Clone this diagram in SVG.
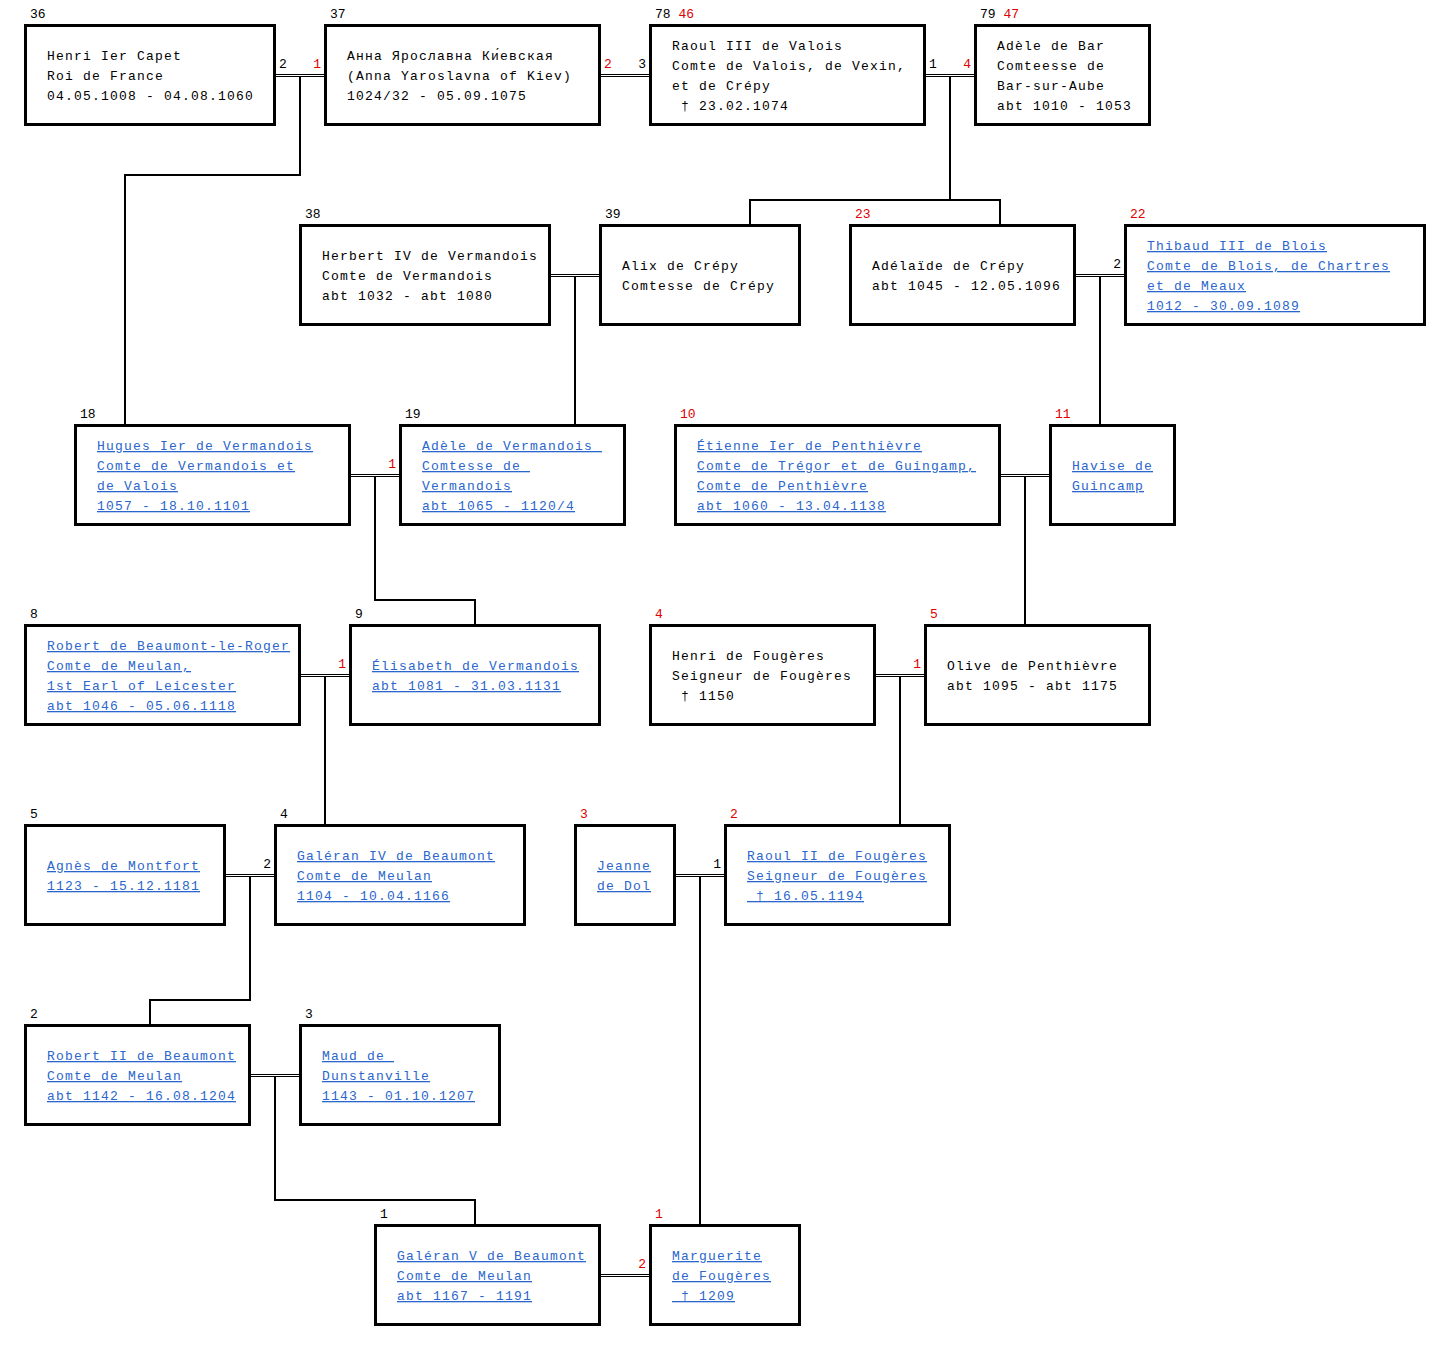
<svg xmlns="http://www.w3.org/2000/svg" width="1451" height="1351" viewBox="0 0 1451 1351" xml:space="preserve">
<style>
.bg{fill:#fff}
.box{fill:#fff;stroke:#000;stroke-width:3}
.t{font-family:"Liberation Mono",monospace;font-size:13px;letter-spacing:1.2px;fill:#000;white-space:pre}
.l{fill:#2a66cc;text-decoration:underline}
.n{font-family:"Liberation Mono",monospace;font-size:13px;fill:#000}
.r{fill:#e00000}
.m{stroke:#000;stroke-width:1;fill:none}
.d{stroke:#000;stroke-width:2;fill:none}
</style>
<rect class="bg" x="0" y="0" width="1451" height="1351"/>
<g id="connectors">
<path class="m" d="M276 74.5H324M276 76.5H324"/>
<path class="m" d="M601 74.5H649M601 76.5H649"/>
<path class="m" d="M926 74.5H974M926 76.5H974"/>
<path class="m" d="M551 274.5H599M551 276.5H599"/>
<path class="m" d="M1076 274.5H1124M1076 276.5H1124"/>
<path class="m" d="M351 474.5H399M351 476.5H399"/>
<path class="m" d="M1001 474.5H1049M1001 476.5H1049"/>
<path class="m" d="M301 674.5H349M301 676.5H349"/>
<path class="m" d="M876 674.5H924M876 676.5H924"/>
<path class="m" d="M226 874.5H274M226 876.5H274"/>
<path class="m" d="M676 874.5H724M676 876.5H724"/>
<path class="m" d="M251 1074.5H299M251 1076.5H299"/>
<path class="m" d="M601 1274.5H649M601 1276.5H649"/>
<path class="d" d="M300 77V175H125V424"/>
<path class="d" d="M950 77V200"/>
<path class="d" d="M750 224V200H1000V224"/>
<path class="d" d="M575 277V424"/>
<path class="d" d="M1100 277V424"/>
<path class="d" d="M375 477V600H475V624"/>
<path class="d" d="M1025 477V624"/>
<path class="d" d="M325 677V824"/>
<path class="d" d="M900 677V824"/>
<path class="d" d="M250 877V1000H150V1024"/>
<path class="d" d="M700 877V1224"/>
<path class="d" d="M275 1077V1200H475V1224"/>
<text class="n" x="279" y="68">2</text>
<text class="n r" x="321" y="68" text-anchor="end">1</text>
<text class="n r" x="604" y="68">2</text>
<text class="n" x="646" y="68" text-anchor="end">3</text>
<text class="n" x="929" y="68">1</text>
<text class="n r" x="971" y="68" text-anchor="end">4</text>
<text class="n" x="1121" y="268" text-anchor="end">2</text>
<text class="n r" x="396" y="468" text-anchor="end">1</text>
<text class="n r" x="346" y="668" text-anchor="end">1</text>
<text class="n r" x="921" y="668" text-anchor="end">1</text>
<text class="n" x="271" y="868" text-anchor="end">2</text>
<text class="n" x="721" y="868" text-anchor="end">1</text>
<text class="n r" x="646" y="1268" text-anchor="end">2</text>
</g>
<g id="n36"><text class="n" x="30" y="18">36</text><rect class="box" x="25.5" y="25.5" width="249" height="99"/>
<text class="t" x="47" y="60">Henri Ier Capet</text><text class="t" x="47" y="80">Roi de France</text><text class="t" x="47" y="100">04.05.1008 - 04.08.1060</text></g>
<g id="n37"><text class="n" x="330" y="18">37</text><rect class="box" x="325.5" y="25.5" width="274" height="99"/>
<text class="t" x="347" y="60">Анна Ярославна Ки́евская</text><text class="t" x="347" y="80">(Anna Yaroslavna of Kiev)</text><text class="t" x="347" y="100">1024/32 - 05.09.1075</text></g>
<g id="n78"><text class="n" x="655" y="18">78 <tspan class="r">46</tspan></text><rect class="box" x="650.5" y="25.5" width="274" height="99"/>
<text class="t" x="672" y="50">Raoul III de Valois</text><text class="t" x="672" y="70">Comte de Valois, de Vexin,</text><text class="t" x="672" y="90">et de Crépy</text><text class="t" x="672" y="110"> † 23.02.1074</text></g>
<g id="n79"><text class="n" x="980" y="18">79 <tspan class="r">47</tspan></text><rect class="box" x="975.5" y="25.5" width="174" height="99"/>
<text class="t" x="997" y="50">Adèle de Bar</text><text class="t" x="997" y="70">Comteesse de</text><text class="t" x="997" y="90">Bar-sur-Aube</text><text class="t" x="997" y="110">abt 1010 - 1053</text></g>
<g id="n38"><text class="n" x="305" y="218">38</text><rect class="box" x="300.5" y="225.5" width="249" height="99"/>
<text class="t" x="322" y="260">Herbert IV de Vermandois</text><text class="t" x="322" y="280">Comte de Vermandois</text><text class="t" x="322" y="300">abt 1032 - abt 1080</text></g>
<g id="n39"><text class="n" x="605" y="218">39</text><rect class="box" x="600.5" y="225.5" width="199" height="99"/>
<text class="t" x="622" y="270">Alix de Crépy</text><text class="t" x="622" y="290">Comtesse de Crépy</text></g>
<g id="n23"><text class="n r" x="855" y="218">23</text><rect class="box" x="850.5" y="225.5" width="224" height="99"/>
<text class="t" x="872" y="270">Adélaïde de Crépy</text><text class="t" x="872" y="290">abt 1045 - 12.05.1096</text></g>
<g id="n22"><text class="n r" x="1130" y="218">22</text><rect class="box" x="1125.5" y="225.5" width="299" height="99"/>
<text class="t l" x="1147" y="250">Thibaud III de Blois</text><text class="t l" x="1147" y="270">Comte de Blois, de Chartres</text><text class="t l" x="1147" y="290">et de Meaux</text><text class="t l" x="1147" y="310">1012 - 30.09.1089</text></g>
<g id="n18"><text class="n" x="80" y="418">18</text><rect class="box" x="75.5" y="425.5" width="274" height="99"/>
<text class="t l" x="97" y="450">Hugues Ier de Vermandois</text><text class="t l" x="97" y="470">Comte de Vermandois et</text><text class="t l" x="97" y="490">de Valois</text><text class="t l" x="97" y="510">1057 - 18.10.1101</text></g>
<g id="n19"><text class="n" x="405" y="418">19</text><rect class="box" x="400.5" y="425.5" width="224" height="99"/>
<text class="t l" x="422" y="450">Adèle de Vermandois </text><text class="t l" x="422" y="470">Comtesse de </text><text class="t l" x="422" y="490">Vermandois</text><text class="t l" x="422" y="510">abt 1065 - 1120/4</text></g>
<g id="n10"><text class="n r" x="680" y="418">10</text><rect class="box" x="675.5" y="425.5" width="324" height="99"/>
<text class="t l" x="697" y="450">Étienne Ier de Penthièvre</text><text class="t l" x="697" y="470">Comte de Trégor et de Guingamp,</text><text class="t l" x="697" y="490">Comte de Penthièvre</text><text class="t l" x="697" y="510">abt 1060 - 13.04.1138</text></g>
<g id="n11"><text class="n r" x="1055" y="418">11</text><rect class="box" x="1050.5" y="425.5" width="124" height="99"/>
<text class="t l" x="1072" y="470">Havise de</text><text class="t l" x="1072" y="490">Guincamp</text></g>
<g id="n8"><text class="n" x="30" y="618">8</text><rect class="box" x="25.5" y="625.5" width="274" height="99"/>
<text class="t l" x="47" y="650">Robert de Beaumont-le-Roger</text><text class="t l" x="47" y="670">Comte de Meulan,</text><text class="t l" x="47" y="690">1st Earl of Leicester</text><text class="t l" x="47" y="710">abt 1046 - 05.06.1118</text></g>
<g id="n9"><text class="n" x="355" y="618">9</text><rect class="box" x="350.5" y="625.5" width="249" height="99"/>
<text class="t l" x="372" y="670">Élisabeth de Vermandois</text><text class="t l" x="372" y="690">abt 1081 - 31.03.1131</text></g>
<g id="n4r"><text class="n r" x="655" y="618">4</text><rect class="box" x="650.5" y="625.5" width="224" height="99"/>
<text class="t" x="672" y="660">Henri de Fougères</text><text class="t" x="672" y="680">Seigneur de Fougères</text><text class="t" x="672" y="700"> † 1150</text></g>
<g id="n5r"><text class="n r" x="930" y="618">5</text><rect class="box" x="925.5" y="625.5" width="224" height="99"/>
<text class="t" x="947" y="670">Olive de Penthièvre</text><text class="t" x="947" y="690">abt 1095 - abt 1175</text></g>
<g id="n5"><text class="n" x="30" y="818">5</text><rect class="box" x="25.5" y="825.5" width="199" height="99"/>
<text class="t l" x="47" y="870">Agnès de Montfort</text><text class="t l" x="47" y="890">1123 - 15.12.1181</text></g>
<g id="n4"><text class="n" x="280" y="818">4</text><rect class="box" x="275.5" y="825.5" width="249" height="99"/>
<text class="t l" x="297" y="860">Galéran IV de Beaumont</text><text class="t l" x="297" y="880">Comte de Meulan</text><text class="t l" x="297" y="900">1104 - 10.04.1166</text></g>
<g id="n3r"><text class="n r" x="580" y="818">3</text><rect class="box" x="575.5" y="825.5" width="99" height="99"/>
<text class="t l" x="597" y="870">Jeanne</text><text class="t l" x="597" y="890">de Dol</text></g>
<g id="n2r"><text class="n r" x="730" y="818">2</text><rect class="box" x="725.5" y="825.5" width="224" height="99"/>
<text class="t l" x="747" y="860">Raoul II de Fougères</text><text class="t l" x="747" y="880">Seigneur de Fougères</text><text class="t l" x="747" y="900"> † 16.05.1194</text></g>
<g id="n2"><text class="n" x="30" y="1018">2</text><rect class="box" x="25.5" y="1025.5" width="224" height="99"/>
<text class="t l" x="47" y="1060">Robert II de Beaumont</text><text class="t l" x="47" y="1080">Comte de Meulan</text><text class="t l" x="47" y="1100">abt 1142 - 16.08.1204</text></g>
<g id="n3"><text class="n" x="305" y="1018">3</text><rect class="box" x="300.5" y="1025.5" width="199" height="99"/>
<text class="t l" x="322" y="1060">Maud de </text><text class="t l" x="322" y="1080">Dunstanville</text><text class="t l" x="322" y="1100">1143 - 01.10.1207</text></g>
<g id="n1"><text class="n" x="380" y="1218">1</text><rect class="box" x="375.5" y="1225.5" width="224" height="99"/>
<text class="t l" x="397" y="1260">Galéran V de Beaumont</text><text class="t l" x="397" y="1280">Comte de Meulan</text><text class="t l" x="397" y="1300">abt 1167 - 1191</text></g>
<g id="n1r"><text class="n r" x="655" y="1218">1</text><rect class="box" x="650.5" y="1225.5" width="149" height="99"/>
<text class="t l" x="672" y="1260">Marguerite</text><text class="t l" x="672" y="1280">de Fougères</text><text class="t l" x="672" y="1300"> † 1209</text></g>
</svg>
